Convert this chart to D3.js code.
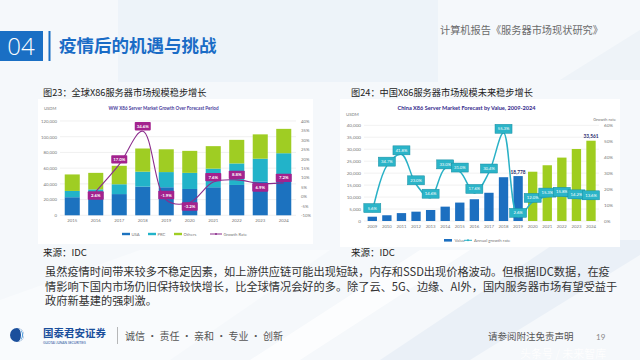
<!DOCTYPE html>
<html><head><meta charset="utf-8">
<script src="https://cdn.jsdelivr.net/npm/d3@7"></script>
<style>
html,body{margin:0;padding:0;background:#fff;}
svg{display:block;}
</style></head><body>
<svg id="slide" width="640" height="360"></svg>
<script>
// ---------- DATA ----------
// Chart 1: WW X86 server market (USDM)
const wwYears = ["2015","2016","2017","2018","2019","2020","2021","2022","2023","2024"];
const wwUSA    = [23000, 23500, 27000, 36500, 35700, 33500, 35700, 38600, 43000, 45000];
const wwPRC    = [8000, 9500, 12500, 19000, 19300, 20500, 23700, 27400, 29000, 34000];
const wwOthers = [21000, 21000, 23500, 29500, 29000, 28000, 28600, 30000, 31000, 31000];
const wwGrowthYears = ["2016","2017","2018","2019","2020","2021","2022","2023","2024"];
const wwGrowth = [2.6, 17.0, 34.6, -1.9, -3.2, 7.6, 8.8, 6.9, 7.2];
const wwLeftTicks = [0, 20000, 40000, 60000, 80000, 100000, 120000];
const wwRightTicks = [-10, -5, 0, 5, 10, 15, 20, 25, 30, 35, 40];
const wwSeries = ["USA", "PRC", "Others"];

// Chart 2: China X86 server market (USDM)
const cnYears = ["2009","2010","2011","2012","2013","2014","2015","2016","2017","2018","2019","2020","2021","2022","2023","2024"];
const cnValue = [1800, 2400, 3300, 3900, 4600, 6000, 7700, 9100, 11800, 18300, 18778, 20600, 23300, 26500, 30100, 33561];
const cnGrowth = [5.6, 34.7, 41.8, 23.0, 14.6, 33.0, 31.0, 17.6, 30.4, 55.3, 2.6, 12.0, 15.3, 15.8, 14.2, 13.6];
const cnForecastFrom = "2020";
const cnLabeledYears = ["2019", "2024"];
const cnLeftTicks = [0, 5000, 10000, 15000, 20000, 25000, 30000, 35000, 40000];
const cnRightTicks = [0, 10, 20, 30, 40, 50, 60];

// ---------- SETUP ----------
const svg = d3.select("#slide");
const CJK = "'Noto Sans CJK SC', 'Noto Sans', sans-serif";
const LAT = "Lato, 'Noto Sans', sans-serif";

// background
svg.append("rect").attr("width", 640).attr("height", 360).attr("fill", "#f5f8fb");
svg.append("rect").attr("x", 118).attr("y", 0).attr("width", 320).attr("height", 82).attr("fill", "#edf3f9");
svg.append("path").attr("d", "M250,360 L420,250 L470,250 L300,360 Z").attr("fill", "#ffffff").attr("opacity", 0.7);
svg.append("path").attr("d", "M380,360 L560,240 L640,240 L640,255 L470,360 Z").attr("fill", "#eaf0f7");
svg.append("path").attr("d", "M560,80 L640,30 L640,80 Z").attr("fill", "#eef3f8");
svg.append("path").attr("d", "M0,360 L0,300 L140,250 L330,250 L170,360 Z").attr("fill", "#f9fbfd");

// header
svg.append("rect").attr("x", 0).attr("y", 31).attr("width", 43).attr("height", 30).attr("fill", "#1a6fc4");
svg.append("text").attr("x", 21).attr("y", 55).attr("text-anchor", "middle")
  .attr("font-family", "'Open Sans', 'Noto Sans', sans-serif").attr("font-size", 24).attr("font-weight", 300)
  .attr("fill", "#fff").text("04");
svg.append("rect").attr("x", 48.5).attr("y", 31).attr("width", 2).attr("height", 30).attr("fill", "#1a6fc4");
svg.append("text").attr("x", 59).attr("y", 51.5).attr("font-family", CJK).attr("font-size", 17.5).attr("font-weight", 700)
  .attr("fill", "#1a6cc6").text("疫情后的机遇与挑战");
svg.append("text").attr("x", 440).attr("y", 34).attr("font-family", CJK).attr("font-size", 10.2)
  .attr("fill", "#6b6b6b").text("计算机报告《服务器市场现状研究》");

// captions
svg.append("text").attr("x", 43).attr("y", 95.5).attr("font-family", CJK).attr("font-size", 9.2).attr("fill", "#222").text("图23：全球X86服务器市场规模稳步增长");
svg.append("text").attr("x", 351).attr("y", 95.5).attr("font-family", CJK).attr("font-size", 9.2).attr("fill", "#222").text("图24：中国X86服务器市场规模未来稳步增长");
svg.append("text").attr("x", 43).attr("y", 255.5).attr("font-family", CJK).attr("font-size", 9.5).attr("fill", "#222").text("来源：IDC");
svg.append("text").attr("x", 351).attr("y", 255.5).attr("font-family", CJK).attr("font-size", 9.5).attr("fill", "#222").text("来源：IDC");

// ---------- CHART 1 ----------
const g1 = svg.append("g");
g1.append("rect").attr("x", 38).attr("y", 99).attr("width", 275).attr("height", 145).attr("fill", "#ffffff");
const x1 = d3.scaleBand().domain(wwYears).range([60.5, 295.5]).paddingInner(0.36).paddingOuter(0.18);
const y1 = d3.scaleLinear().domain([0, 120000]).range([215.3, 121]);
const y1r = d3.scaleLinear().domain([-10, 40]).range([215.3, 121]);

g1.selectAll("line.grid").data(wwLeftTicks).join("line")
  .attr("x1", 60).attr("x2", 296).attr("y1", d => y1(d)).attr("y2", d => y1(d))
  .attr("stroke", "#e6e6e6").attr("stroke-width", 0.6);

const wwRows = wwYears.map((yr, i) => ({year: yr, USA: wwUSA[i], PRC: wwPRC[i], Others: wwOthers[i]}));
const stack1 = d3.stack().keys(wwSeries)(wwRows);
const col1 = {USA: "#1c72bf", PRC: "#22b3c9", Others: "#9fcd23"};
stack1.forEach(layer => {
  g1.selectAll(null).data(layer).join("rect")
    .attr("x", d => x1(d.data.year)).attr("width", x1.bandwidth())
    .attr("y", d => y1(d[1])).attr("height", d => y1(d[0]) - y1(d[1]))
    .attr("fill", col1[layer.key]);
});

function styleAxis(sel, size, color) {
  sel.select(".domain").remove();
  sel.selectAll("text").attr("font-family", LAT).attr("font-size", size).attr("fill", color);
}
g1.append("g").attr("transform", "translate(57,0)")
  .call(d3.axisLeft(y1).tickValues(wwLeftTicks).tickSize(0).tickPadding(0).tickFormat(d3.format(",")))
  .call(s => styleAxis(s, 4.3, "#777"));
g1.append("g").attr("transform", "translate(301,0)")
  .call(d3.axisRight(y1r).tickValues(wwRightTicks).tickSize(0).tickPadding(0).tickFormat(d => d + "%"))
  .call(s => styleAxis(s, 4.3, "#777"));
g1.append("g").attr("transform", "translate(0,218)")
  .call(d3.axisBottom(x1).tickSize(0).tickPadding(1))
  .call(s => styleAxis(s, 4.3, "#777"));
g1.append("text").attr("x", 44).attr("y", 110).attr("font-family", LAT).attr("font-size", 4.2).attr("fill", "#777").text("USDM");
g1.append("text").attr("x", 163.5).attr("y", 109.5).attr("text-anchor", "middle").attr("font-family", LAT)
  .attr("font-size", 4.6).attr("font-weight", 700).attr("fill", "#4a3c9c").text("WW X86 Server Market Growth Over Forecast Period");

const gPts = wwGrowthYears.map((yr, i) => ({year: yr, v: wwGrowth[i]}));
const line1 = d3.line().x(d => x1(d.year) + x1.bandwidth() / 2).y(d => y1r(d.v)).curve(d3.curveCatmullRom.alpha(0.5));
g1.append("path").datum(gPts).attr("d", line1).attr("fill", "none").attr("stroke", "#8b2c8c").attr("stroke-width", 1.1);
const lab1 = g1.selectAll("g.lab").data(gPts).join("g")
  .attr("transform", (d, i) => {
    const prev = i > 0 ? gPts[i - 1].v : Infinity;
    const next = i < gPts.length - 1 ? gPts[i + 1].v : Infinity;
    const low = d.v < prev && d.v < next;
    return `translate(${x1(d.year) + x1.bandwidth() / 2},${y1r(d.v) + (low ? 4 : -5)})`;
  });
lab1.append("rect").attr("x", -8).attr("y", -4.2).attr("width", 16).attr("height", 8.4).attr("rx", 0.8).attr("fill", "#a3228e");
lab1.append("text").attr("text-anchor", "middle").attr("dy", "0.35em").attr("font-family", LAT).attr("font-size", 4.3)
  .attr("font-weight", 700).attr("fill", "#fff").text(d => d.v.toFixed(1) + "%");

// legend 1
const leg1 = [
  {name: "USA", color: col1.USA, x: 122, type: "bar"},
  {name: "PRC", color: col1.PRC, x: 148, type: "bar"},
  {name: "Others", color: col1.Others, x: 174, type: "bar"},
  {name: "Growth Rate", color: "#8b2c8c", x: 210, type: "line"}
];
leg1.forEach(l => {
  if (l.type === "bar") g1.append("rect").attr("x", l.x).attr("y", 232.8).attr("width", 8).attr("height", 2.4).attr("fill", l.color);
  else {
    g1.append("line").attr("x1", l.x).attr("x2", l.x + 12).attr("y1", 234).attr("y2", 234).attr("stroke", l.color).attr("stroke-width", 1);
    g1.append("circle").attr("cx", l.x + 6).attr("cy", 234).attr("r", 1).attr("fill", l.color);
  }
  g1.append("text").attr("x", l.x + (l.type === "bar" ? 9.5 : 13.5)).attr("y", 235.5).attr("font-family", LAT)
    .attr("font-size", 4.2).attr("fill", "#777").text(l.name);
});

// ---------- CHART 2 ----------
const g2 = svg.append("g");
g2.append("rect").attr("x", 340).attr("y", 99).attr("width", 280).attr("height", 148).attr("fill", "#ffffff");
const x2 = d3.scaleBand().domain(cnYears).range([365, 598.3]).paddingInner(0.36).paddingOuter(0.18);
const y2 = d3.scaleLinear().domain([0, 40000]).range([221, 125.3]);
const y2r = d3.scaleLinear().domain([0, 60]).range([221, 125.3]);

g2.selectAll("line.grid").data(cnLeftTicks).join("line")
  .attr("x1", 364).attr("x2", 599).attr("y1", d => y2(d)).attr("y2", d => y2(d))
  .attr("stroke", "#e8e8e8").attr("stroke-width", 0.6);

const cnRows = cnYears.map((yr, i) => ({year: yr, v: cnValue[i], g: cnGrowth[i]}));
g2.selectAll("rect.bar").data(cnRows).join("rect")
  .attr("x", d => x2(d.year)).attr("width", x2.bandwidth())
  .attr("y", d => y2(d.v)).attr("height", d => y2(0) - y2(d.v))
  .attr("fill", d => (+d.year >= +cnForecastFrom) ? "#9fcd1f" : "#1c6fc0");

g2.append("g").attr("transform", "translate(361,0)")
  .call(d3.axisLeft(y2).tickValues(cnLeftTicks).tickSize(0).tickPadding(0).tickFormat(d3.format(",")))
  .call(s => styleAxis(s, 4.6, "#777"));
g2.append("g").attr("transform", "translate(604,0)")
  .call(d3.axisRight(y2r).tickValues(cnRightTicks).tickSize(0).tickPadding(0).tickFormat(d => d + "%"))
  .call(s => styleAxis(s, 4.6, "#777"));
g2.append("g").attr("transform", "translate(0,223.5)")
  .call(d3.axisBottom(x2).tickSize(0).tickPadding(1))
  .call(s => styleAxis(s, 4.3, "#777"));
g2.append("text").attr("x", 346).attr("y", 116).attr("font-family", LAT).attr("font-size", 4.3).attr("fill", "#777").text("USDM");
g2.append("text").attr("x", 616).attr("y", 120.5).attr("text-anchor", "end").attr("font-family", LAT).attr("font-size", 4.3).attr("fill", "#777").text("Growth rate");
g2.append("text").attr("x", 466.5).attr("y", 109.5).attr("text-anchor", "middle").attr("font-family", LAT)
  .attr("font-size", 5.6).attr("font-weight", 700).attr("fill", "#34298a").text("China X86 Server Market Forecast by Value, 2009-2024");

g2.selectAll("text.vl").data(cnRows.filter(d => cnLabeledYears.includes(d.year))).join("text")
  .attr("x", d => x2(d.year) + x2.bandwidth() / 2).attr("y", d => y2(d.v) - 2.5).attr("text-anchor", "middle")
  .attr("font-family", LAT).attr("font-size", 4.8).attr("font-weight", 700).attr("fill", "#2a2a6e")
  .text(d => d3.format(",")(d.v));

const line2 = d3.line().x(d => x2(d.year) + x2.bandwidth() / 2).y(d => y2r(d.g)).curve(d3.curveCatmullRom.alpha(0.5));
g2.append("path").datum(cnRows).attr("d", line2).attr("fill", "none").attr("stroke", "#29b1c6").attr("stroke-width", 1.5);
const lab2 = g2.selectAll("g.lab").data(cnRows).join("g")
  .attr("transform", d => `translate(${x2(d.year) + x2.bandwidth() / 2},${y2r(d.g) - 4})`);
lab2.append("rect").attr("x", -8.5).attr("y", -4.5).attr("width", 17).attr("height", 9).attr("fill", "#2bb4c8")
  .attr("stroke", "#178ea2").attr("stroke-width", 0.5);
lab2.append("text").attr("text-anchor", "middle").attr("dy", "0.35em").attr("font-family", LAT).attr("font-size", 4.2)
  .attr("fill", "#fff").text(d => d.g.toFixed(1) + "%");

// legend 2
g2.append("rect").attr("x", 444).attr("y", 239).attr("width", 8).attr("height", 2.6).attr("fill", "#1c6fc0");
g2.append("text").attr("x", 454.5).attr("y", 241.8).attr("font-family", LAT).attr("font-size", 4.3).attr("fill", "#777").text("Value");
g2.append("line").attr("x1", 464).attr("x2", 472).attr("y1", 240.3).attr("y2", 240.3).attr("stroke", "#29b1c6").attr("stroke-width", 1);
g2.append("circle").attr("cx", 468).attr("cy", 240.3).attr("r", 1).attr("fill", "#29b1c6");
g2.append("text").attr("x", 474).attr("y", 241.8).attr("font-family", LAT).attr("font-size", 4.3).attr("fill", "#777").text("Annual growth rate");

// ---------- BODY TEXT ----------
const body = [
  "虽然疫情时间带来较多不稳定因素，如上游供应链可能出现短缺，内存和SSD出现价格波动。但根据IDC数据，在疫",
  "情影响下国内市场仍旧保持较快增长，比全球情况会好的多。除了云、5G、边缘、AI外，国内服务器市场有望受益于",
  "政府新基建的强刺激。"
];
svg.selectAll("text.body").data(body).join("text")
  .attr("x", 45).attr("y", (d, i) => 276 + i * 14.6)
  .attr("font-family", CJK).attr("font-size", 11.2).attr("fill", "#333").text(d => d);

// ---------- FOOTER ----------
const logo = svg.append("g").attr("transform", "translate(17,335)");
logo.append("circle").attr("r", 7).attr("fill", "#1b4f9c");
logo.append("path").attr("d", "M0,-7 A7,7 0 0,1 0,7 A4,7 0 0,0 0,-7 Z").attr("fill", "#ffffff");
logo.append("path").attr("d", "M1.5,-6.5 A7,7 0 0,1 1.5,6.5 A3.5,6.5 0 0,0 1.5,-6.5 Z").attr("fill", "#2c8ad8");
svg.append("text").attr("x", 43).attr("y", 337).attr("font-family", CJK).attr("font-size", 10.5).attr("font-weight", 700)
  .attr("fill", "#1b4f9c").text("国泰君安证券");
svg.append("text").attr("x", 43).attr("y", 343.5).attr("font-family", LAT).attr("font-size", 3.3)
  .attr("fill", "#1b4f9c").text("GUOTAI JUNAN SECURITIES");
svg.append("line").attr("x1", 117.5).attr("x2", 117.5).attr("y1", 327).attr("y2", 344).attr("stroke", "#999").attr("stroke-width", 0.7);
svg.append("text").attr("x", 125).attr("y", 339.5).attr("font-family", CJK).attr("font-size", 10).attr("fill", "#555")
  .text("诚信 · 责任 · 亲和 · 专业 · 创新");
svg.append("text").attr("x", 488).attr("y", 339.5).attr("font-family", CJK).attr("font-size", 9.5).attr("fill", "#555").text("请参阅附注免责声明");
svg.append("text").attr("x", 596).attr("y", 339.5).attr("font-family", LAT).attr("font-size", 8).attr("fill", "#888").text("19");
svg.append("text").attr("x", 520).attr("y", 357.5).attr("font-family", CJK).attr("font-size", 11)
  .attr("fill", "#ffffff").attr("opacity", 0.9).text("头条号 / 未来智库");
</script>
</body></html>
